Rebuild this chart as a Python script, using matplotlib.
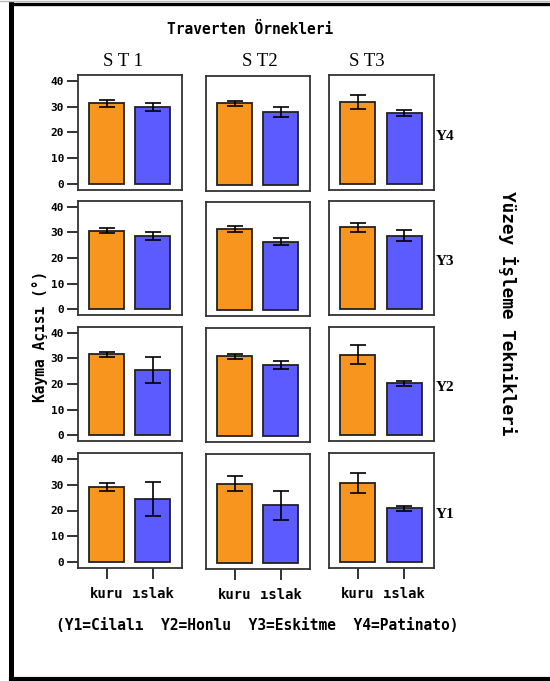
import matplotlib
matplotlib.use("Agg")
import matplotlib.pyplot as plt
from matplotlib.lines import Line2D

# ---- data ----
conditions = ["kuru", "ıslak"]
sites = ["S T 1", "S T2", "S T3"]
techniques = ["Y4", "Y3", "Y2", "Y1"]   # rows top -> bottom

# means[row][col] = (kuru, ıslak)
means_kuru = [
    [31.3, 31.6, 31.8],   # Y4
    [30.6, 31.6, 32.0],   # Y3
    [31.5, 31.2, 31.4],   # Y2
    [29.1, 30.8, 30.7],   # Y1
]
means_islak = [
    [29.8, 28.2, 27.4],
    [28.7, 26.8, 28.7],
    [25.4, 27.8, 20.3],
    [24.4, 22.4, 20.8],
]
err_kuru = [
    [1.3, 1.0, 2.8],
    [1.0, 1.2, 1.8],
    [0.8, 1.0, 3.7],
    [1.5, 3.0, 3.9],
]
err_islak = [
    [1.5, 2.0, 1.2],
    [1.6, 1.2, 2.2],
    [5.0, 1.7, 1.0],
    [6.6, 5.6, 1.0],
]
yticks = [0, 10, 20, 30, 40]
title = "Traverten Örnekleri"
ylabel = "Kayma Açısı (°)"
rlabel = "Yüzey İşleme Teknikleri"
legend_text = "(Y1=Cilalı  Y2=Honlu  Y3=Eskitme  Y4=Patinato)"

ORANGE = "#F7951F"
BLUE = "#5B5BFF"
W, H = 550, 681
MONO = "DejaVu Sans Mono"

fig = plt.figure(figsize=(W / 100, H / 100), dpi=100)

col_x = [(78, 182), (206, 310), (329, 434)]
col_dy = [0, 1, 0]
row_y = [(75, 190), (201, 315), (327, 441), (453, 568)]

def fx(px):
    return px / W

def fy(py):
    return 1 - py / H

for r, (y0, y1) in enumerate(row_y):
    for c, (x0, x1) in enumerate(col_x):
        dy = col_dy[c]
        ax = fig.add_axes([fx(x0), fy(y1 + dy), (x1 - x0) / W, (y1 - y0) / H])
        vals = [means_kuru[r][c], means_islak[r][c]]
        errs = [err_kuru[r][c], err_islak[r][c]]
        ax.bar([0, 1], vals, width=0.76, color=[ORANGE, BLUE],
               edgecolor="#222222", linewidth=1.3, zorder=2)
        ax.errorbar([0, 1], vals, yerr=errs, fmt="none", ecolor="black",
                    elinewidth=1.2, capsize=5.5, capthick=1.2, zorder=3)
        ax.set_xlim(-0.62, 1.64)
        ax.set_ylim(-2.2, 42.2)
        for s in ax.spines.values():
            s.set_color("#333333")
            s.set_linewidth(1.3)
        ax.set_yticks(yticks)
        if c == 0:
            ax.tick_params(axis="y", direction="out", length=8, width=1.4,
                           color="#333333", pad=2)
            ax.set_yticklabels([str(v) for v in yticks], family=MONO,
                               weight="bold", fontsize=8)
        else:
            ax.tick_params(axis="y", left=False, labelleft=False)
        ax.set_xticks([0, 1])
        if r == len(row_y) - 1:
            ax.tick_params(axis="x", direction="out", length=8, width=1.4,
                           color="#333333", pad=6)
            ax.set_xticklabels(conditions, family=MONO, weight="bold",
                               fontsize=10)
        else:
            ax.tick_params(axis="x", bottom=False, labelbottom=False)
        if c == 2:
            ax.text(1.02, 0.465, techniques[r],
                    transform=ax.transAxes, ha="left", va="center",
                    family="Liberation Serif", weight="bold", fontsize=11)

# column titles
for name, cx in zip(sites, [123, 260, 367]):
    fig.text(fx(cx), fy(61), name, ha="center", va="center",
             family="Liberation Serif", fontsize=13.5)

fig.text(fx(250), fy(30), title, ha="center", va="center",
         family=MONO, weight="bold", fontsize=10.5)
fig.text(fx(40), fy(336), ylabel, ha="center", va="center", rotation=90,
         family=MONO, weight="bold", fontsize=10.5)
fig.text(fx(508), fy(313), rlabel, ha="center", va="center", rotation=-90,
         family=MONO, weight="bold", fontsize=12.8)
fig.text(fx(257), fy(626), legend_text, ha="center", va="center",
         family=MONO, weight="bold", fontsize=10.5)

# outer frame (left, top, bottom)
fig.add_artist(Line2D([fx(10.5), fx(10.5)], [fy(3.5), fy(679)],
                      color="black", linewidth=3.6, transform=fig.transFigure))
fig.add_artist(Line2D([fx(10.5), fx(560)], [fy(3.5), fy(3.5)],
                      color="black", linewidth=2.4, transform=fig.transFigure))
fig.add_artist(Line2D([fx(10.5), fx(560)], [fy(679), fy(679)],
                      color="black", linewidth=3.0, transform=fig.transFigure))
fig.add_artist(Line2D([0, 1], [fy(0.5), fy(0.5)], color="#bbbbbb",
                      linewidth=1.0, transform=fig.transFigure))

fig.savefig("out.png", dpi=100)
